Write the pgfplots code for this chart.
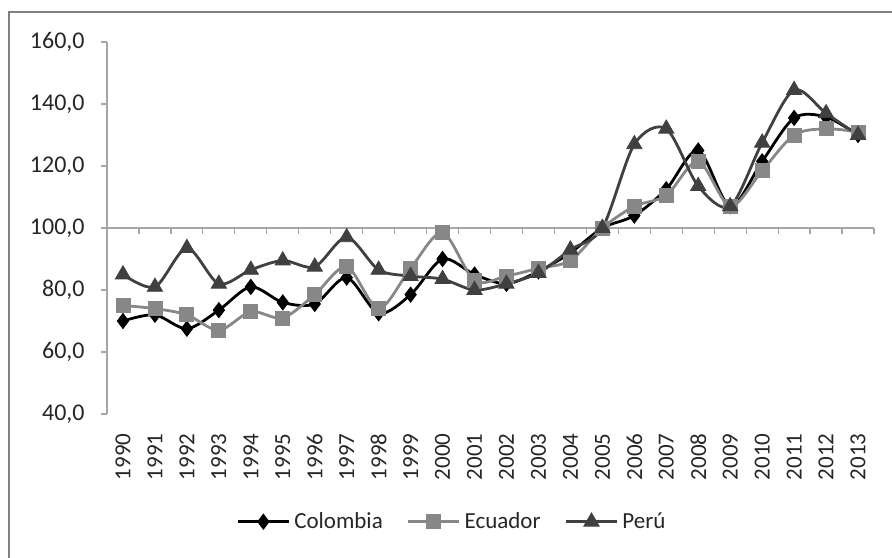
\documentclass[border=0pt]{standalone}
\usepackage{fontspec}
\setmainfont{Carlito}
\usepackage{pgfplots}
\pgfplotsset{compat=1.18}
\definecolor{colcol}{HTML}{000000}
\definecolor{ecucol}{HTML}{878787}
\definecolor{perucol}{HTML}{404040}
\definecolor{axcol}{HTML}{A6A6A6}
\definecolor{framecol}{HTML}{808080}
\begin{document}
\begin{tikzpicture}
\path[use as bounding box] (-53.5pt,-71.5pt) rectangle (392.5pt,207pt);
\draw[framecol, line width=0.8pt] (-49pt,-76pt) rectangle (397pt,201pt);
\begin{axis}[
  at={(0,0)}, anchor=south west,
  scale only axis, width=383.5pt, height=186pt,
  xmin=-0.5, xmax=23.5, ymin=40, ymax=160,
  axis x line*=bottom, axis y line*=left,
  x axis line style={draw=none},
  y axis line style={axcol, line width=0.6pt},
  xtick={0,...,23},
  xticklabels={1990,1991,1992,1993,1994,1995,1996,1997,1998,1999,2000,2001,2002,2003,2004,2005,2006,2007,2008,2009,2010,2011,2012,2013},
  major x tick style={draw=none},
  xticklabel style={rotate=90, anchor=east, inner sep=0pt, font=\fontsize{11.5}{13}\selectfont},
  xticklabel shift=6.5pt,
  ytick={40,60,...,160},
  tick align=outside,
  major tick length=3pt,
  major y tick style={axcol, line width=0.6pt},
  yticklabel style={font=\fontsize{12}{14}\selectfont, inner sep=0pt},
  yticklabel shift=8pt,
  y tick label style={/pgf/number format/.cd, fixed, fixed zerofill, precision=1, use comma, assume math mode=true},
  tick label style={text=black!85},
  clip=false,
  legend columns=3,
  legend style={at={(axis description cs:0.451,-0.2895)}, anchor=center, draw=none, fill=none,
    font=\fontsize{11.5}{13}\selectfont, text=black!85,
    /tikz/every even column/.append style={column sep=10pt}},
  legend image code/.code={\draw[mark repeat=2,mark phase=2] plot coordinates {(0pt,0pt)(12.75pt,0pt)(25.5pt,0pt)};},
]
\draw[axcol, line width=0.6pt] (axis cs:-0.5,100) -- (axis cs:23.5,100);
\pgfplotsinvokeforeach{-0.5,0.5,1.5,2.5,3.5,4.5,5.5,6.5,7.5,8.5,9.5,10.5,11.5,12.5,13.5,14.5,15.5,16.5,17.5,18.5,19.5,20.5,21.5,22.5,23.5}{
  \draw[axcol, line width=0.6pt] (axis cs:#1,100) -- ++(0pt,-3pt);
}
\addplot[colcol, line width=1.4pt, smooth, tension=0.5, mark=diamond*, mark size=3.8pt, mark options={line width=0.4pt}] coordinates {
(0,70) (1,72) (2,67.5) (3,73.5) (4,81) (5,76) (6,75.5) (7,84) (8,72.5) (9,78.5) (10,90) (11,85) (12,82) (13,86) (14,92) (15,100) (16,104) (17,112.5) (18,125) (19,107) (20,121.5) (21,135.5) (22,135.8) (23,130)};
\addlegendentry{Colombia}
\addplot[ecucol, line width=1.4pt, smooth, tension=0.5, mark=square*, mark size=3.5pt, mark options={line width=0.4pt}] coordinates {
(0,75) (1,74) (2,72) (3,67) (4,73) (5,71) (6,78.5) (7,87.5) (8,74) (9,87) (10,98.5) (11,83) (12,84.5) (13,87) (14,89.5) (15,100) (16,107) (17,110.5) (18,121.5) (19,107) (20,118.5) (21,130) (22,132) (23,131)};
\addlegendentry{Ecuador}
\addplot[perucol, line width=1.4pt, smooth, tension=0.5, mark=triangle*, mark size=4.4pt, mark options={line width=0.4pt}] coordinates {
(0,85) (1,81) (2,93.5) (3,82) (4,86.5) (5,89.5) (6,87.5) (7,97) (8,86.5) (9,84.5) (10,83.5) (11,80) (12,82) (13,85.5) (14,93) (15,100) (16,127) (17,132) (18,113.5) (19,107) (20,127.5) (21,144.5) (22,137) (23,130)};
\addlegendentry{Perú}
\end{axis}
\end{tikzpicture}
\end{document}
